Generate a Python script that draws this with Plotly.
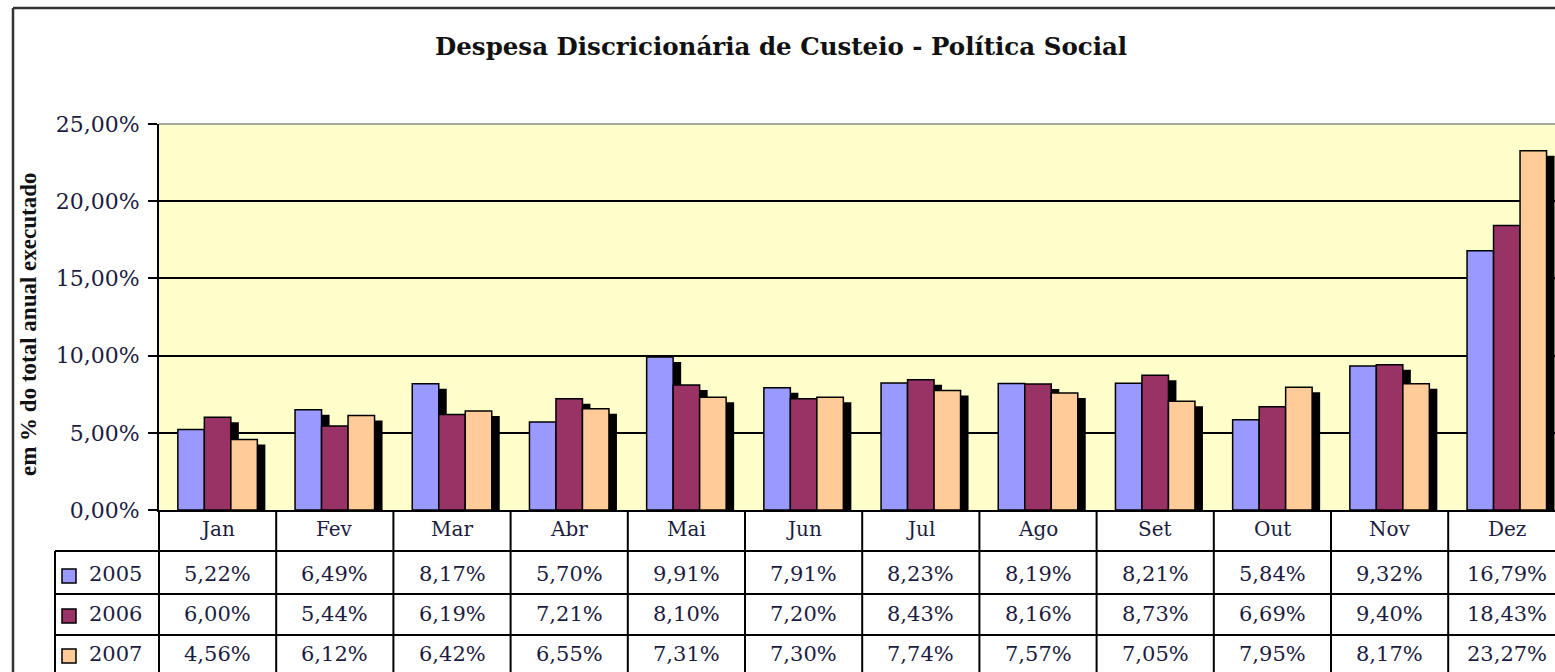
import plotly.graph_objects as go

months = ["Jan", "Fev", "Mar", "Abr", "Mai", "Jun", "Jul", "Ago", "Set", "Out", "Nov", "Dez"]
years = ["2005", "2006", "2007"]
v2005 = [5.22, 6.49, 8.17, 5.70, 9.91, 7.91, 8.23, 8.19, 8.21, 5.84, 9.32, 16.79]
v2006 = [6.00, 5.44, 6.19, 7.21, 8.10, 7.20, 8.43, 8.16, 8.73, 6.69, 9.40, 18.43]
v2007 = [4.56, 6.12, 6.42, 6.55, 7.31, 7.30, 7.74, 7.57, 7.05, 7.95, 8.17, 23.27]
series = [v2005, v2006, v2007]
y_ticks = [0, 5, 10, 15, 20, 25]
y_ticktext = ["0,00%", "5,00%", "10,00%", "15,00%", "20,00%", "25,00%"]
colors = ["#9999FF", "#993366", "#FFCC99"]
title_text = "Despesa Discricionária de Custeio - Política Social"
ytitle_text = "em % do total anual executado"

# body margin is removed by post_script, so figure pixels == page pixels
W, H = 1555, 672
ML = 159
MT = 124
PB = 510
MB = H - PB
PW = W - ML
PH = PB - MT
CAT_PX = 117.2
x_end = -0.5 + PW / CAT_PX
ymax = 25.0

def xp(px):
    return (px - ML) / PW

def yp(py):
    return (PB - py) / PH

xs = list(range(len(months)))
bw = 26.5 / CAT_PX
sh_dx = 8.0 / CAT_PX
sh_dy = 5.0 * ymax / PH

fig = go.Figure()
for k, vals in enumerate(series):
    off = (k - 1.5) * bw
    fig.add_trace(go.Bar(
        x=xs, y=[v - sh_dy for v in vals], base=0, width=bw, offset=off + sh_dx,
        marker=dict(color="black", line=dict(width=0)), showlegend=False, hoverinfo="skip"))
for k, vals in enumerate(series):
    off = (k - 1.5) * bw
    fig.add_trace(go.Bar(
        x=xs, y=vals, width=bw, offset=off, name=years[k],
        marker=dict(color=colors[k], line=dict(color="black", width=1.5)), showlegend=False))

serif = "DejaVu Serif"
txtcol = "#1c1c40"
shapes = []
annotations = []

# outer frame
shapes.append(dict(type="line", xref="paper", yref="paper", x0=xp(13), x1=xp(13), y0=yp(8), y1=yp(H + 20),
                   line=dict(color="#333333", width=2.5)))
shapes.append(dict(type="line", xref="paper", yref="paper", x0=xp(13), x1=xp(W + 20), y0=yp(8), y1=yp(8),
                   line=dict(color="#333333", width=2.5)))
# plot top border
shapes.append(dict(type="line", xref="paper", yref="paper", x0=0, x1=1.02, y0=1, y1=1,
                   line=dict(color="#888888", width=1.5)))

# table grid
row_lines = [551, 594, 635]
for ry in row_lines:
    shapes.append(dict(type="line", xref="paper", yref="paper", x0=xp(55), x1=xp(W + 20), y0=yp(ry), y1=yp(ry),
                       line=dict(color="black", width=2)))
shapes.append(dict(type="line", xref="paper", yref="paper", x0=xp(55), x1=xp(55), y0=yp(551), y1=yp(H + 20),
                   line=dict(color="black", width=2)))
shapes.append(dict(type="line", xref="paper", yref="paper", x0=0, x1=0, y0=0, y1=yp(H + 20),
                   line=dict(color="black", width=2)))
for i in xs[:-1]:
    shapes.append(dict(type="line", xref="x", yref="paper", x0=i + 0.5, x1=i + 0.5, y0=0, y1=yp(H + 20),
                       line=dict(color="black", width=2)))

for i, m in enumerate(months):
    annotations.append(dict(x=i, y=yp(529), xref="x", yref="paper", text=m, showarrow=False,
                            font=dict(family=serif, size=20, color=txtcol), xanchor="center", yanchor="middle"))

row_centers = [574, 614, 654]
for k, vals in enumerate(series):
    for i, v in enumerate(vals):
        annotations.append(dict(x=i, y=yp(row_centers[k]), xref="x", yref="paper",
                                text=f"{v:.2f}".replace(".", ",") + "%", showarrow=False,
                                font=dict(family=serif, size=21, color=txtcol), xanchor="center", yanchor="middle"))
    shapes.append(dict(type="rect", xref="paper", yref="paper", x0=xp(62), x1=xp(76),
                       y0=yp(row_centers[k] - 5), y1=yp(row_centers[k] + 9),
                       fillcolor=colors[k], line=dict(color="black", width=1.5)))
    annotations.append(dict(x=xp(87), y=yp(row_centers[k]), xref="paper", yref="paper", text=years[k],
                            showarrow=False, font=dict(family=serif, size=21, color=txtcol),
                            xanchor="left", yanchor="middle"))

# title
annotations.append(dict(x=xp(781), y=yp(47), xref="paper", yref="paper", text=f"<b>{title_text}</b>",
                        showarrow=False, font=dict(family="DejaVu Serif", size=24.5, color="#111111"),
                        xanchor="center", yanchor="middle"))
# y title
annotations.append(dict(x=xp(28), y=yp(325), xref="paper", yref="paper", text=f"<b>{ytitle_text}</b>",
                        showarrow=False, textangle=-90,
                        font=dict(family="Liberation Serif", size=23, color="#111111"),
                        xanchor="center", yanchor="middle"))

fig.update_layout(
    width=W, height=H,
    margin=dict(l=ML, r=0, t=MT, b=MB, pad=0),
    paper_bgcolor="white", plot_bgcolor="#FFFFCC",
    barmode="overlay",
    shapes=shapes, annotations=annotations,
    showlegend=False,
)
fig.update_xaxes(range=[-0.5, x_end], showticklabels=False, showgrid=False, zeroline=False,
                 showline=True, linecolor="black", linewidth=2, ticks="")
fig.update_yaxes(range=[0, ymax], tickvals=y_ticks, ticktext=y_ticktext,
                 showgrid=True, gridcolor="black", gridwidth=1.5, zeroline=False,
                 showline=True, linecolor="black", linewidth=2,
                 ticks="outside", ticklen=9, tickwidth=1.5, tickcolor="black", ticklabelstandoff=4,
                 tickfont=dict(family=serif, size=22, color=txtcol))

fig.write_html("out.html", config={"displayModeBar": False},
               post_script="document.body.style.margin='0';document.body.style.overflow='hidden';")
